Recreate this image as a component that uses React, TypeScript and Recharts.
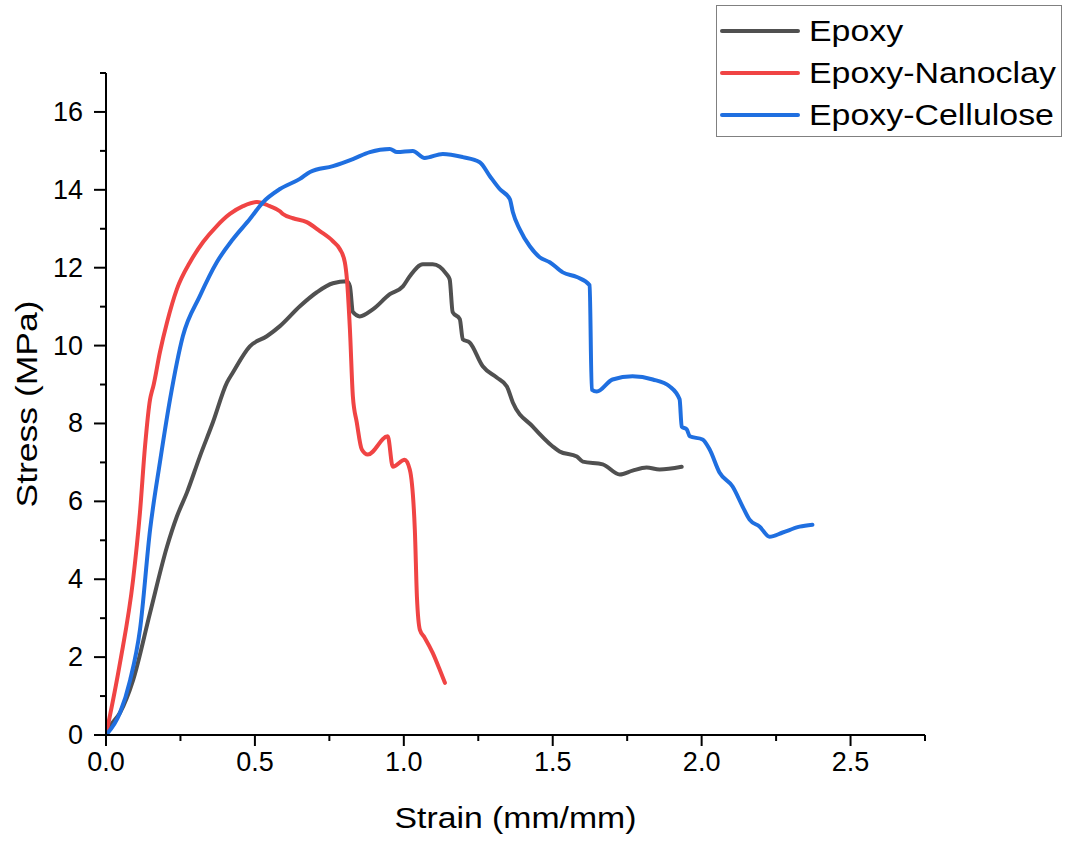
import React from 'react';
import { LineChart, Line, XAxis, YAxis, Legend } from 'recharts';

const epoxyStrain = [0, 0.013, 0.047, 0.091, 0.148, 0.205, 0.238, 0.272, 0.315, 0.359, 0.406, 0.426, 0.483, 0.54, 0.584, 0.651, 0.708, 0.762, 0.809, 0.819, 0.829, 0.852, 0.896, 0.953, 0.997, 1.02, 1.064, 1.097, 1.144, 1.154, 1.164, 1.188, 1.198, 1.221, 1.265, 1.312, 1.346, 1.366, 1.433, 1.5, 1.523, 1.581, 1.601, 1.668, 1.725, 1.768, 1.815, 1.859, 1.933];
const epoxyStress = [0, 0.21, 0.57, 1.41, 3.14, 4.84, 5.61, 6.23, 7.15, 8.03, 9.05, 9.31, 9.98, 10.24, 10.5, 11.01, 11.37, 11.6, 11.65, 11.52, 10.86, 10.75, 10.93, 11.32, 11.52, 11.78, 12.09, 12.09, 11.83, 11.7, 10.86, 10.68, 10.16, 10.08, 9.47, 9.18, 8.95, 8.54, 7.92, 7.41, 7.28, 7.15, 7.02, 6.95, 6.69, 6.79, 6.87, 6.82, 6.89];

const nanoclayStrain = [0, 0.047, 0.091, 0.114, 0.131, 0.148, 0.154, 0.158, 0.181, 0.205, 0.238, 0.282, 0.326, 0.372, 0.416, 0.46, 0.507, 0.55, 0.584, 0.594, 0.628, 0.674, 0.718, 0.762, 0.785, 0.802, 0.809, 0.819, 0.829, 0.842, 0.859, 0.879, 0.946, 0.963, 1.003, 1.02, 1.037, 1.044, 1.054, 1.07, 1.097, 1.121, 1.138];
const nanoclayStress = [0, 1.85, 3.99, 5.71, 7.41, 8.62, 8.82, 8.93, 9.83, 10.6, 11.45, 12.14, 12.66, 13.07, 13.38, 13.58, 13.69, 13.58, 13.45, 13.38, 13.27, 13.17, 12.94, 12.68, 12.48, 12.14, 11.7, 10.42, 8.69, 8.03, 7.33, 7.2, 7.67, 6.89, 7.07, 6.82, 5.27, 3.55, 2.7, 2.5, 2.11, 1.67, 1.34];

const celluloseStrain = [0, 0.047, 0.081, 0.114, 0.148, 0.181, 0.215, 0.258, 0.315, 0.372, 0.426, 0.483, 0.527, 0.584, 0.651, 0.685, 0.762, 0.829, 0.886, 0.953, 0.977, 1.03, 1.07, 1.131, 1.198, 1.255, 1.289, 1.322, 1.356, 1.366, 1.389, 1.423, 1.456, 1.49, 1.534, 1.581, 1.624, 1.631, 1.648, 1.701, 1.768, 1.836, 1.893, 1.926, 1.933, 1.95, 1.96, 2.003, 2.027, 2.06, 2.104, 2.138, 2.161, 2.195, 2.228, 2.272, 2.329, 2.372];
const celluloseStress = [0, 0.57, 1.41, 2.7, 5.27, 7.0, 8.62, 10.24, 11.27, 12.14, 12.73, 13.25, 13.68, 14.02, 14.28, 14.46, 14.61, 14.79, 14.97, 15.05, 14.97, 15.0, 14.82, 14.92, 14.84, 14.71, 14.35, 14.02, 13.76, 13.43, 12.99, 12.55, 12.27, 12.14, 11.88, 11.76, 11.55, 8.87, 8.82, 9.13, 9.21, 9.13, 8.95, 8.62, 7.92, 7.85, 7.67, 7.59, 7.33, 6.74, 6.38, 5.86, 5.53, 5.35, 5.09, 5.2, 5.35, 5.4];

const seriesNames = ['Epoxy', 'Epoxy-Nanoclay', 'Epoxy-Cellulose'];
const seriesColors = ['#505050', '#f04444', '#1f6fe0'];

const xTicks = [0, 0.25, 0.5, 0.75, 1, 1.25, 1.5, 1.75, 2, 2.25, 2.5, 2.75];
const xMajorTicks = [0, 0.5, 1, 1.5, 2, 2.5];
const yTicks = [0, 1, 2, 3, 4, 5, 6, 7, 8, 9, 10, 11, 12, 13, 14, 15, 16, 17];
const yMajorTicks = [0, 2, 4, 6, 8, 10, 12, 14, 16];

const xTitle = 'Strain (mm/mm)';
const yTitle = 'Stress (MPa)';

const FONT = '"Liberation Sans", Arial, sans-serif';

const toPoints = (xs: number[], ys: number[]) => xs.map((x, i) => ({ x, y: ys[i] }));
const seriesData = [
  toPoints(epoxyStrain, epoxyStress),
  toPoints(nanoclayStrain, nanoclayStress),
  toPoints(celluloseStrain, celluloseStress),
];

const XTick = (props: any) => {
  const { x, y, payload } = props;
  const v = payload.value as number;
  const major = xMajorTicks.includes(v);
  return (
    <g>
      <line x1={x} x2={x} y1={y} y2={y + (major ? 11 : 6)} stroke="#000" strokeWidth={2} />
      {major && (
        <text x={x} y={y + 36} textAnchor="middle" fontSize={27} fontFamily={FONT} fill="#000">
          {v.toFixed(1)}
        </text>
      )}
    </g>
  );
};

const YTick = (props: any) => {
  const { x, y, payload } = props;
  const v = payload.value as number;
  const major = yMajorTicks.includes(v);
  return (
    <g>
      <line x1={x - (major ? 12 : 6)} x2={x} y1={y} y2={y} stroke="#000" strokeWidth={2} />
      {major && (
        <text x={x - 23} y={y} textAnchor="end" dominantBaseline="central" fontSize={27} fontFamily={FONT} fill="#000">
          {v}
        </text>
      )}
    </g>
  );
};

const renderLegend = () => (
  <div
    style={{
      border: '1.5px solid #808080',
      width: 346,
      height: 132,
      boxSizing: 'border-box',
      background: '#fff',
      paddingTop: 4,
    }}
  >
    {seriesNames.map((name, i) => (
      <div key={name} style={{ display: 'flex', alignItems: 'center', height: 42 }}>
        <div style={{ width: 80, height: 4, background: seriesColors[i], marginLeft: 3, borderRadius: 2, flex: 'none' }} />
        <span
          style={{
            marginLeft: 9,
            fontSize: 30,
            fontFamily: FONT,
            color: '#000',
            lineHeight: '42px',
            display: 'inline-block',
            transform: 'scaleX(1.13)',
            transformOrigin: 'left center',
            whiteSpace: 'nowrap',
          }}
        >
          {name}
        </span>
      </div>
    ))}
  </div>
);

export default function App() {
  return (
    <div style={{ position: 'absolute', left: 0, top: 0, background: '#fff' }}>
      <LineChart width={1067} height={845} margin={{ top: 73, right: 142, bottom: 0, left: 0 }}>
        <XAxis
          type="number"
          dataKey="x"
          domain={[0, 2.75]}
          ticks={xTicks}
          interval={0}
          tickSize={0}
          tickMargin={0}
          tickLine={false}
          tick={<XTick />}
          height={110}
          axisLine={{ stroke: '#000', strokeWidth: 2 }}
          allowDataOverflow
          label={{
            content: (p: any) => {
              const vb = p.viewBox || { x: 106, y: 735, width: 819, height: 110 };
              return (
                <text x={vb.x + vb.width / 2} y={vb.y + 83} textAnchor="middle" dominantBaseline="central" fontSize={29} textLength={242} lengthAdjust="spacingAndGlyphs" fontFamily={FONT} fill="#000">
                  {xTitle}
                </text>
              );
            },
          }}
        />
        <YAxis
          type="number"
          dataKey="y"
          domain={[0, 17]}
          ticks={yTicks}
          interval={0}
          tickSize={0}
          tickMargin={0}
          tickLine={false}
          tick={<YTick />}
          width={106}
          axisLine={{ stroke: '#000', strokeWidth: 2 }}
          allowDataOverflow
          label={{
            content: (p: any) => {
              const vb = p.viewBox || { x: 0, y: 73, width: 106, height: 662 };
              const cx = vb.x + 26;
              const cy = vb.y + vb.height / 2;
              return (
                <text x={cx} y={cy} transform={`rotate(-90 ${cx} ${cy})`} textAnchor="middle" dominantBaseline="central" fontSize={30} textLength={207} lengthAdjust="spacingAndGlyphs" fontFamily={FONT} fill="#000">
                  {yTitle}
                </text>
              );
            },
          }}
        />
        <Legend
          layout="vertical"
          verticalAlign="middle"
          align="center"
          content={renderLegend}
          wrapperStyle={{ position: 'absolute', top: 5, left: 716, width: 346, height: 132 }}
        />
        {seriesData.map((d, i) => (
          <Line
            key={seriesNames[i]}
            data={d}
            dataKey="y"
            name={seriesNames[i]}
            stroke={seriesColors[i]}
            strokeWidth={4}
            dot={false}
            activeDot={false}
            isAnimationActive={false}
            type="monotoneX"
            strokeLinejoin="round"
            strokeLinecap="round"
          />
        ))}
      </LineChart>
    </div>
  );
}
